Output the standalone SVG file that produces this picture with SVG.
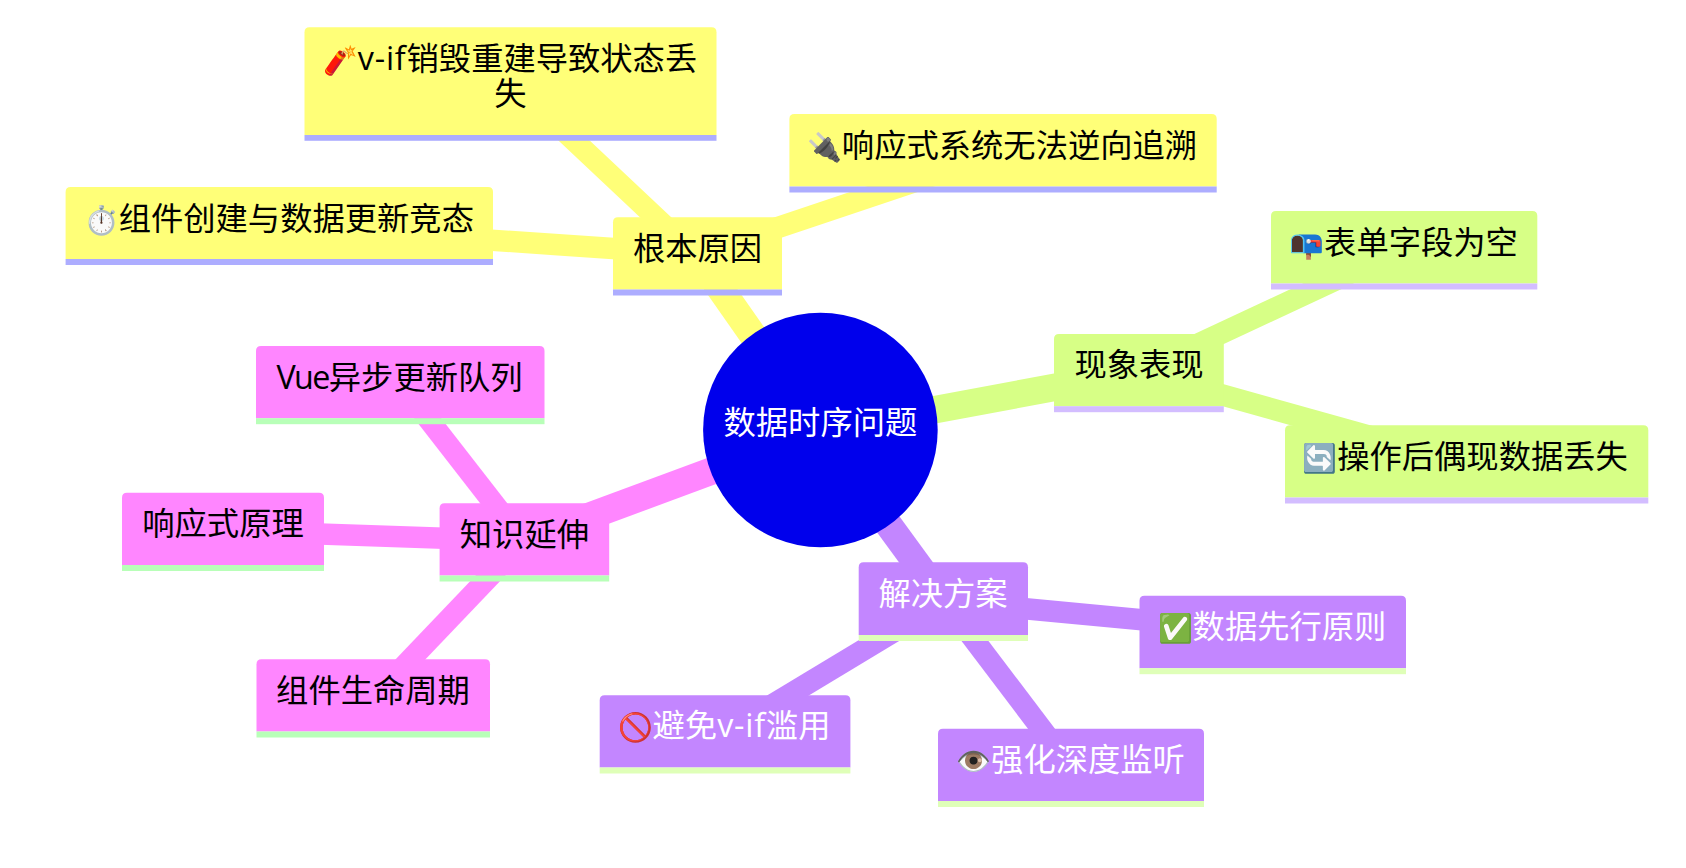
<svg xmlns="http://www.w3.org/2000/svg" width="1686" height="868" viewBox="0 0 1686 868">
<style>
text{font-family:"Open Sans","Noto Sans CJK SC",sans-serif;font-size:32.3px;text-anchor:middle;fill:#000}
.e{font-size:28px}
.lat{letter-spacing:.8px}
.l{fill:none;stroke-linecap:butt}
.d0{stroke-width:27.5}.d1{stroke-width:21.5}
.y{stroke:#ffff78}.g{stroke:#d7ff86}.m{stroke:#ff86ff}.p{stroke:#c386ff}
.fy{fill:#ffff78}.fg{fill:#d7ff86}.fm{fill:#ff86ff}.fp{fill:#c386ff}
.by{fill:#adadff}.bg{fill:#d3bdff}.bm{fill:#b8ffb8}.bp{fill:#dfffb8}
text.w{fill:#fff}
</style>
<rect width="1686" height="868" fill="#fff"/>
<g id="connectors">
<line class="l d0 y" x1="820" y1="431" x2="697.5" y2="256"/>
<line class="l d0 g" x1="820" y1="431" x2="1139" y2="371.7"/>
<line class="l d0 m" x1="820" y1="431" x2="524.4" y2="540.3"/>
<line class="l d0 p" x1="820" y1="431" x2="943.5" y2="600"/>
<line class="l d1 y" x1="695.7" y1="255" x2="514" y2="84"/>
<line class="l d1 y" x1="697.5" y1="254.5" x2="1003" y2="152"/>
<line class="l d1 y" x1="697.5" y1="254.3" x2="279" y2="225.7"/>
<line class="l d1 g" x1="1139" y1="371.7" x2="1404" y2="248"/>
<line class="l d1 g" x1="1139" y1="371.7" x2="1466.6" y2="463.4"/>
<line class="l d1 m" x1="522.3" y1="540" x2="401.8" y2="385"/>
<line class="l d1 m" x1="524.4" y1="541.1" x2="223" y2="530.7"/>
<line class="l d1 m" x1="524.4" y1="540" x2="373.6" y2="698"/>
<line class="l d1 p" x1="943.3" y1="601" x2="1272.7" y2="632"/>
<line class="l d1 p" x1="943.3" y1="601.8" x2="725" y2="733.4"/>
<line class="l d1 p" x1="944.7" y1="601" x2="1070.4" y2="767"/>
</g>
<g id="root"><circle cx="820.4" cy="430" r="117.3" fill="#0000ec"/><text class="w" x="820.4" y="434">数据时序问题</text></g>
<g id="n-cause"><path class="fy" d="M613 289.5V222.3q0-5 5-5H777q5 0 5 5V289.5Z"/><rect class="by" x="613" y="289.5" width="169" height="6"/><text x="697.5" y="260">根本原因</text></g>
<g id="n-vif"><path class="fy" d="M304.5 135V32.3q0-5 5-5H711.5q5 0 5 5V135Z"/><rect class="by" x="304.5" y="135" width="412" height="5.8"/><text x="510" y="70"><tspan class="e">🧨</tspan><tspan class="lat">v-if</tspan>销毁重建导致状态丢<tspan x="510.5" y="105">失</tspan></text></g>
<g id="n-reactive"><path class="fy" d="M789.4 186.5V119q0-5 5-5H1211.7q5 0 5 5V186.5Z"/><rect class="by" x="789.4" y="186.5" width="427.3" height="6"/><text x="1002" y="157"><tspan class="e">🔌</tspan>响应式系统无法逆向追溯</text></g>
<g id="n-race"><path class="fy" d="M65.6 259V192q0-5 5-5H488q5 0 5 5V259Z"/><rect class="by" x="65.6" y="259" width="427.4" height="6"/><text x="278.8" y="230"><tspan class="e">⏱️</tspan>组件创建与数据更新竞态</text></g>
<g id="n-symptom"><path class="fg" d="M1054 406.2V339q0-5 5-5H1218.8q5 0 5 5V406.2Z"/><rect class="bg" x="1054" y="406.2" width="169.8" height="6"/><text x="1139" y="376">现象表现</text></g>
<g id="n-empty"><path class="fg" d="M1271 283.5V216q0-5 5-5H1532.3q5 0 5 5V283.5Z"/><rect class="bg" x="1271" y="283.5" width="266.3" height="6"/><text x="1403.5" y="254"><tspan class="e">📭</tspan>表单字段为空</text></g>
<g id="n-lost"><path class="fg" d="M1285 497.5V430.3q0-5 5-5H1643.3q5 0 5 5V497.5Z"/><rect class="bg" x="1285" y="497.5" width="363.3" height="6"/><text x="1465" y="467.5"><tspan class="e">🔄</tspan>操作后偶现数据丢失</text></g>
<g id="n-ext"><path class="fm" d="M439.6 575.5V508.3q0-5 5-5H604.2q5 0 5 5V575.5Z"/><rect class="bm" x="439.6" y="575.5" width="169.6" height="6"/><text x="524.4" y="545.5">知识延伸</text></g>
<g id="n-vue"><path class="fm" d="M256 418.2V351q0-5 5-5H539.5q5 0 5 5V418.2Z"/><rect class="bm" x="256" y="418.2" width="288.5" height="6"/><text x="399.5" y="389"><tspan style="letter-spacing:-1.6px">Vue</tspan>异步更新队列</text></g>
<g id="n-principle"><path class="fm" d="M122 565V497.7q0-5 5-5H319q5 0 5 5V565Z"/><rect class="bm" x="122" y="565" width="202" height="6"/><text x="223" y="535">响应式原理</text></g>
<g id="n-life"><path class="fm" d="M256.5 731.5V664.3q0-5 5-5H485q5 0 5 5V731.5Z"/><rect class="bm" x="256.5" y="731.5" width="233.5" height="6"/><text x="373" y="701.5">组件生命周期</text></g>
<g id="n-solve"><path class="fp" d="M858.7 635V567.3q0-5 5-5H1023q5 0 5 5V635Z"/><rect class="bp" x="858.7" y="635" width="169.3" height="6"/><text class="w" x="943" y="605">解决方案</text></g>
<g id="n-first"><path class="fp" d="M1139.5 668.2V600.7q0-5 5-5H1401q5 0 5 5V668.2Z"/><rect class="bp" x="1139.5" y="668.2" width="266.5" height="6"/><text class="w" x="1272" y="637.5"><tspan class="e">✅</tspan>数据先行原则</text></g>
<g id="n-avoid"><path class="fp" d="M599.7 767.5V700.3q0-5 5-5H845.4q5 0 5 5V767.5Z"/><rect class="bp" x="599.7" y="767.5" width="250.7" height="6"/><text class="w" x="724" y="736.5"><tspan class="e">🚫</tspan>避免<tspan class="lat">v-if</tspan>滥用</text></g>
<g id="n-watch"><path class="fp" d="M938 801V733.7q0-5 5-5H1199q5 0 5 5V801Z"/><rect class="bp" x="938" y="801" width="266" height="6"/><text class="w" x="1070.5" y="770.5"><tspan class="e">👁️</tspan>强化深度监听</text></g>
</svg>
